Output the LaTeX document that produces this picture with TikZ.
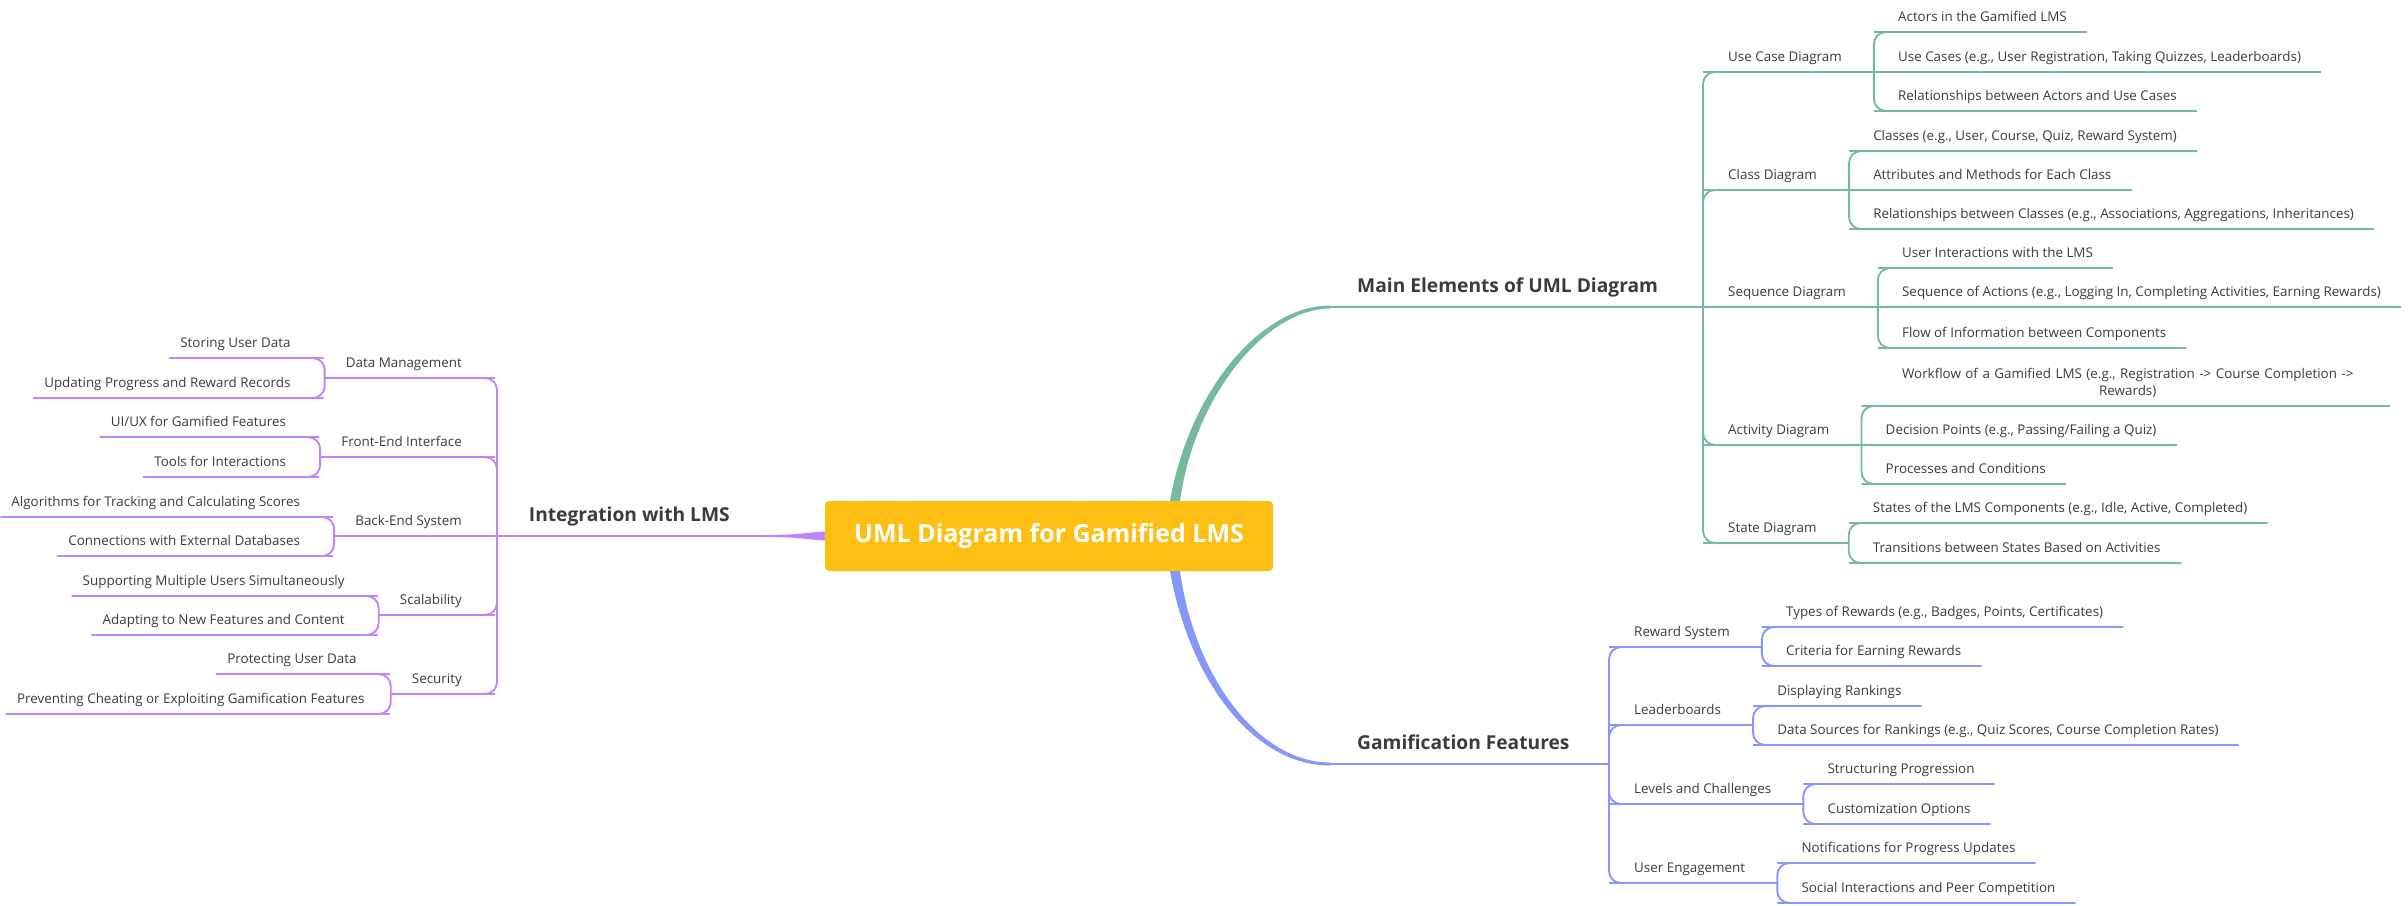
\documentclass[tikz,border=0pt]{standalone}
\usepackage{fontspec}
\setmainfont{Open Sans}
\usetikzlibrary{calc,positioning}
\definecolor{umlgreen}{HTML}{76BA9D}
\definecolor{umlblue}{HTML}{8598FA}
\definecolor{umlpurple}{HTML}{C084FC}
\definecolor{rootyellow}{HTML}{FDBF13}
\definecolor{ink}{HTML}{3B3B3B}
\tikzset{
    leaf/.style = {
        font = \fontsize{13.4}{17}\selectfont,
        text = ink,
        inner xsep = 12pt,
        inner ysep = 10.5pt,
        text height = 10pt,
        text depth = 0pt,
        },
    branch/.style = {
        leaf,
        inner xsep = 13pt,
        },
    topic/.style = {
        font = \fontsize{19.2}{23}\selectfont\bfseries,
        text = ink,
        inner ysep = 14.5pt,
        text height = 14pt,
        text depth = 0pt,
        },
    root topic/.style = {
        fill = rootyellow,
        text = white,
        rounded corners = 4pt,
        minimum width = 448pt,
        minimum height = 70pt,
        font = \fontsize{25}{30}\selectfont\bfseries,
        },
}

\begin{document}
\begin{tikzpicture}[
            x=1pt, y=-1pt,
            green edge/.style={draw=umlgreen, line width=1.9pt, rounded corners=12pt},
            blue edge/.style={draw=umlblue, line width=1.9pt, rounded corners=12pt},
            purple edge/.style={draw=umlpurple, line width=1.9pt, rounded corners=12pt},
            wrap leaf/.style={font=\fontsize{13.4}{17}\selectfont, text=ink, inner xsep=12pt, inner ysep=8.5pt, align=center, text width=484pt},
            ]
            \useasboundingbox (0,0) rectangle (2408,905);

            \node [root topic] (root) at (1049,536) {UML Diagram for Gamified LMS};

            % main branches
            \node [topic, anchor=south west, inner xsep=27pt] (main) at (1330,307) {Main Elements of UML Diagram};
            \node [topic, anchor=south west, inner xsep=27pt] (gamif) at (1330,764) {Gamification Features};
            \node [topic, anchor=south east, inner xsep=33pt] (integ) at (763,536) {Integration with LMS};
            \coordinate (ghub) at (1703,307);
            \coordinate (bhub) at (1609,764);
            \coordinate (phub) at (497,536);
            \coordinate (gfoot) at ([xshift=126pt]root.north);
            \coordinate (bfoot) at ([xshift=126pt]root.south);

            \fill[umlgreen] ([xshift=-5pt]gfoot) .. controls +(20,-112) and +(-68,0) .. ([yshift=1.5pt]main.south west)
                -- ([yshift=-1.5pt]main.south west) .. controls +(-62,0) and +(15,-108) .. ([xshift=5pt]gfoot) -- cycle;
            \fill[umlblue] ([xshift=-5pt]bfoot) .. controls +(20,112) and +(-75,0) .. ([yshift=-1.5pt]gamif.south west)
                -- ([yshift=1.5pt]gamif.south west) .. controls +(-70,0) and +(15,108) .. ([xshift=5pt]bfoot) -- cycle;
            \fill[umlpurple] ([yshift=1pt]integ.south east) .. controls +(40,0) and +(-12,0) .. ([yshift=4.5pt]root.west)
                -- ([yshift=-4.5pt]root.west) .. controls +(-12,0) and +(40,0) .. ([yshift=-1pt]integ.south east) -- cycle;

            \draw[green edge, line width=2.6pt] (main.south west) -- (ghub);
            \draw[blue edge, line width=2.6pt] (gamif.south west) -- (bhub);
            \draw[purple edge, line width=2.6pt] (phub) -- (integ.south east);

            % Main Elements of UML Diagram
            \node [branch, anchor=south west] (usecase) at (1715,72) {Use Case Diagram};
            \node [branch, anchor=south west] (class) at (1715,190) {Class Diagram};
            \node [branch, anchor=south west] (sequence) at (1715,307) {Sequence Diagram};
            \node [branch, anchor=south west] (activity) at (1715,445) {Activity Diagram};
            \node [branch, anchor=south west] (state) at (1715,543) {State Diagram};

            \node [leaf, anchor=south west] (actors) at ($(usecase.south east)+(31,-40)$) {Actors in the Gamified LMS};
            \node [leaf, anchor=south west] (cases) at ($(usecase.south east)+(31,0)$) {Use Cases (e.g., User Registration, Taking Quizzes, Leaderboards)};
            \node [leaf, anchor=south west] (actrel) at ($(usecase.south east)+(31,39)$) {Relationships between Actors and Use Cases};
            \node [leaf, anchor=south west] (classes) at ($(class.south east)+(31,-39)$) {Classes (e.g., User, Course, Quiz, Reward System)};
            \node [leaf, anchor=south west] (attrib) at ($(class.south east)+(31,0)$) {Attributes and Methods for Each Class};
            \node [leaf, anchor=south west] (classrel) at ($(class.south east)+(31,39)$) {Relationships between Classes (e.g., Associations, Aggregations, Inheritances)};
            \node [leaf, anchor=south west] (interact) at ($(sequence.south east)+(31,-39)$) {User Interactions with the LMS};
            \node [leaf, anchor=south west] (actions) at ($(sequence.south east)+(31,0)$) {Sequence of Actions (e.g., Logging In, Completing Activities, Earning Rewards)};
            \node [leaf, anchor=south west] (flow) at ($(sequence.south east)+(31,41)$) {Flow of Information between Components};
            \node [wrap leaf, anchor=south west] (workflow) at ($(activity.south east)+(31,-39)$) {Workflow of a Gamified LMS (e.g., Registration -> Course Completion ->\\ Rewards)};
            \node [leaf, anchor=south west] (decision) at ($(activity.south east)+(31,0)$) {Decision Points (e.g., Passing/Failing a Quiz)};
            \node [leaf, anchor=south west] (process) at ($(activity.south east)+(31,39)$) {Processes and Conditions};
            \node [leaf, anchor=south west] (states) at ($(state.south east)+(31,-20)$) {States of the LMS Components (e.g., Idle, Active, Completed)};
            \node [leaf, anchor=south west] (trans) at ($(state.south east)+(31,20)$) {Transitions between States Based on Activities};

            \draw[green edge] (ghub) |- (usecase.south west) -- ([xshift=19pt]usecase.south east);
            \draw[green edge] (ghub) |- (class.south west) -- ([xshift=19pt]class.south east);
            \draw[green edge] (ghub) -- (sequence.south west) -- ([xshift=19pt]sequence.south east);
            \draw[green edge] (ghub) |- (activity.south west) -- ([xshift=19pt]activity.south east);
            \draw[green edge] (ghub) |- (state.south west) -- ([xshift=19pt]state.south east);

            \draw[green edge] ([xshift=19pt]usecase.south east) |- (actors.south west) -- ([xshift=8pt]actors.south east);
            \draw[green edge] ([xshift=19pt]usecase.south east) -- (cases.south west) -- ([xshift=8pt]cases.south east);
            \draw[green edge] ([xshift=19pt]usecase.south east) |- (actrel.south west) -- ([xshift=8pt]actrel.south east);
            \draw[green edge] ([xshift=19pt]class.south east) |- (classes.south west) -- ([xshift=8pt]classes.south east);
            \draw[green edge] ([xshift=19pt]class.south east) -- (attrib.south west) -- ([xshift=8pt]attrib.south east);
            \draw[green edge] ([xshift=19pt]class.south east) |- (classrel.south west) -- ([xshift=8pt]classrel.south east);
            \draw[green edge] ([xshift=19pt]sequence.south east) |- (interact.south west) -- ([xshift=8pt]interact.south east);
            \draw[green edge] ([xshift=19pt]sequence.south east) -- (actions.south west) -- ([xshift=8pt]actions.south east);
            \draw[green edge] ([xshift=19pt]sequence.south east) |- (flow.south west) -- ([xshift=8pt]flow.south east);
            \draw[green edge] ([xshift=19pt]activity.south east) |- (workflow.south west) -- ([xshift=8pt]workflow.south east);
            \draw[green edge] ([xshift=19pt]activity.south east) -- (decision.south west) -- ([xshift=8pt]decision.south east);
            \draw[green edge] ([xshift=19pt]activity.south east) |- (process.south west) -- ([xshift=8pt]process.south east);
            \draw[green edge] ([xshift=19pt]state.south east) |- (states.south west) -- ([xshift=8pt]states.south east);
            \draw[green edge] ([xshift=19pt]state.south east) |- (trans.south west) -- ([xshift=8pt]trans.south east);

            % Gamification Features
            \node [branch, anchor=south west] (reward) at (1621,647) {Reward System};
            \node [branch, anchor=south west] (leader) at (1621,725) {Leaderboards};
            \node [branch, anchor=south west] (levels) at (1621,804) {Levels and Challenges};
            \node [branch, anchor=south west] (engage) at (1621,883) {User Engagement};

            \node [leaf, anchor=south west] (types) at ($(reward.south east)+(31,-20)$) {Types of Rewards (e.g., Badges, Points, Certificates)};
            \node [leaf, anchor=south west] (criteria) at ($(reward.south east)+(31,19)$) {Criteria for Earning Rewards};
            \node [leaf, anchor=south west] (ranking) at ($(leader.south east)+(31,-19)$) {Displaying Rankings};
            \node [leaf, anchor=south west] (sources) at ($(leader.south east)+(31,20)$) {Data Sources for Rankings (e.g., Quiz Scores, Course Completion Rates)};
            \node [leaf, anchor=south west] (progress) at ($(levels.south east)+(31,-20)$) {Structuring Progression};
            \node [leaf, anchor=south west] (custom) at ($(levels.south east)+(31,20)$) {Customization Options};
            \node [leaf, anchor=south west] (notify) at ($(engage.south east)+(31,-20)$) {Notifications for Progress Updates};
            \node [leaf, anchor=south west] (social) at ($(engage.south east)+(31,20)$) {Social Interactions and Peer Competition};

            \draw[blue edge] (bhub) |- (reward.south west) -- ([xshift=19pt]reward.south east);
            \draw[blue edge] (bhub) |- (leader.south west) -- ([xshift=19pt]leader.south east);
            \draw[blue edge] (bhub) |- (levels.south west) -- ([xshift=19pt]levels.south east);
            \draw[blue edge] (bhub) |- (engage.south west) -- ([xshift=19pt]engage.south east);

            \draw[blue edge] ([xshift=19pt]reward.south east) |- (types.south west) -- ([xshift=8pt]types.south east);
            \draw[blue edge] ([xshift=19pt]reward.south east) |- (criteria.south west) -- ([xshift=8pt]criteria.south east);
            \draw[blue edge] ([xshift=19pt]leader.south east) |- (ranking.south west) -- ([xshift=8pt]ranking.south east);
            \draw[blue edge] ([xshift=19pt]leader.south east) |- (sources.south west) -- ([xshift=8pt]sources.south east);
            \draw[blue edge] ([xshift=19pt]levels.south east) |- (progress.south west) -- ([xshift=8pt]progress.south east);
            \draw[blue edge] ([xshift=19pt]levels.south east) |- (custom.south west) -- ([xshift=8pt]custom.south east);
            \draw[blue edge] ([xshift=19pt]engage.south east) |- (notify.south west) -- ([xshift=8pt]notify.south east);
            \draw[blue edge] ([xshift=19pt]engage.south east) |- (social.south west) -- ([xshift=8pt]social.south east);

            % Integration with LMS
            \node [branch, anchor=south east, inner xsep=21pt] (datamgmt) at (483,378) {Data Management};
            \node [branch, anchor=south east, inner xsep=21pt] (frontend) at (483,457) {Front-End Interface};
            \node [branch, anchor=south east, inner xsep=21pt] (backend) at (483,536) {Back-End System};
            \node [branch, anchor=south east, inner xsep=21pt] (scaling) at (483,615) {Scalability};
            \node [branch, anchor=south east, inner xsep=21pt] (security) at (483,694) {Security};

            \node [leaf, anchor=south east, inner xsep=11pt] (storing) at ($(datamgmt.south west)+(-23,-20)$) {Storing User Data};
            \node [leaf, anchor=south east, inner xsep=11pt] (updating) at ($(datamgmt.south west)+(-23,20)$) {Updating Progress and Reward Records};
            \node [leaf, anchor=south east, inner xsep=11pt] (uiux) at ($(frontend.south west)+(-23,-20)$) {UI/UX for Gamified Features};
            \node [leaf, anchor=south east, inner xsep=11pt] (tools) at ($(frontend.south west)+(-23,20)$) {Tools for Interactions};
            \node [leaf, anchor=south east, inner xsep=11pt] (algo) at ($(backend.south west)+(-23,-19)$) {Algorithms for Tracking and Calculating Scores};
            \node [leaf, anchor=south east, inner xsep=11pt] (extdb) at ($(backend.south west)+(-23,20)$) {Connections with External Databases};
            \node [leaf, anchor=south east, inner xsep=11pt] (multi) at ($(scaling.south west)+(-23,-19)$) {Supporting Multiple Users Simultaneously};
            \node [leaf, anchor=south east, inner xsep=11pt] (adapt) at ($(scaling.south west)+(-23,20)$) {Adapting to New Features and Content};
            \node [leaf, anchor=south east, inner xsep=11pt] (protect) at ($(security.south west)+(-23,-20)$) {Protecting User Data};
            \node [leaf, anchor=south east, inner xsep=11pt] (cheat) at ($(security.south west)+(-15,20)$) {Preventing Cheating or Exploiting Gamification Features};

            \draw[purple edge] (phub) |- (datamgmt.south east) -- (datamgmt.south west);
            \draw[purple edge] (phub) |- (frontend.south east) -- (frontend.south west);
            \draw[purple edge] (phub) -- (backend.south east) -- (backend.south west);
            \draw[purple edge] (phub) |- (scaling.south east) -- (scaling.south west);
            \draw[purple edge] (phub) |- (security.south east) -- (security.south west);

            \draw[purple edge] (datamgmt.south west) |- ([xshift=10pt]storing.south east) -- (storing.south west);
            \draw[purple edge] (datamgmt.south west) |- ([xshift=10pt]updating.south east) -- (updating.south west);
            \draw[purple edge] (frontend.south west) |- ([xshift=10pt]uiux.south east) -- (uiux.south west);
            \draw[purple edge] (frontend.south west) |- ([xshift=10pt]tools.south east) -- (tools.south west);
            \draw[purple edge] (backend.south west) |- ([xshift=10pt]algo.south east) -- (algo.south west);
            \draw[purple edge] (backend.south west) |- ([xshift=10pt]extdb.south east) -- (extdb.south west);
            \draw[purple edge] (scaling.south west) |- ([xshift=10pt]multi.south east) -- (multi.south west);
            \draw[purple edge] (scaling.south west) |- ([xshift=10pt]adapt.south east) -- (adapt.south west);
            \draw[purple edge] (security.south west) |- ([xshift=10pt]protect.south east) -- (protect.south west);
            \draw[purple edge] (security.south west) |- ([xshift=2pt]cheat.south east) -- (cheat.south west);
\end{tikzpicture}
\end{document}
